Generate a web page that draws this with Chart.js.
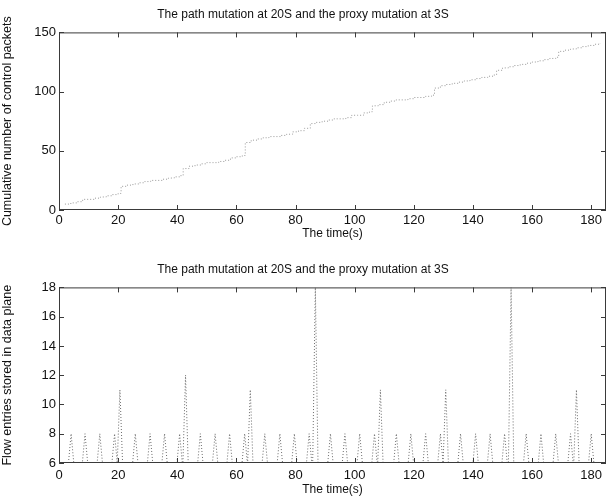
<!DOCTYPE html>
<html>
<head>
<meta charset="utf-8">
<script src="https://cdn.jsdelivr.net/npm/chart.js@4"></script>
<style>
  body { margin: 0; background: #fff; }
  .plot { position: absolute; left: 0; width: 614px; }
</style>
</head>
<body>
<div class="plot" style="top:0;height:243px"><canvas id="cumChart"></canvas></div>
<div class="plot" style="top:243px;height:255px"><canvas id="flowChart"></canvas></div>
<script>
'use strict';

// Data
const chartTitle = 'The path mutation at 20S and the proxy mutation at 3S';
const timeTicks = [0, 20, 40, 60, 80, 100, 120, 140, 160, 180];

// top: cumulative number of control packets (staircase)
const cumTimes = [2, 4, 6, 8, 10, 12, 14, 16, 18, 20, 21, 23, 25, 27, 29, 31, 33, 35, 37, 39,
  41, 42, 44, 46, 48, 50, 52, 54, 56, 58, 60, 62, 63, 65, 67, 69, 71, 73, 75, 77,
  79, 81, 83, 85, 87, 89, 91, 93, 95, 97, 99, 101, 103, 105, 106, 108, 110, 112, 114, 116,
  118, 120, 122, 124, 126, 127, 129, 131, 133, 135, 137, 139, 141, 143, 145, 147, 148, 150, 152, 154,
  156, 158, 160, 162, 164, 166, 168, 169, 171, 173, 175, 177, 179, 181, 183];
const cumPackets = [5, 6, 7, 9, 9, 10, 11, 12, 13, 14, 20, 21, 22, 23, 24, 25, 25, 26, 27, 28,
  29, 35, 37, 38, 39, 40, 40, 41, 42, 44, 45, 46, 57, 59, 60, 61, 62, 62, 63, 64,
  66, 67, 69, 73, 74, 75, 76, 77, 77, 78, 80, 80, 82, 83, 88, 89, 91, 92, 93, 93,
  94, 95, 95, 96, 97, 103, 105, 106, 107, 108, 109, 110, 111, 112, 113, 114, 118, 120, 121, 122,
  123, 124, 125, 126, 127, 128, 129, 134, 135, 136, 137, 138, 139, 140, 141];

// bottom: flow entries stored in data plane (spikes from the baseline of 6)
const flowBase = 6;
const spikeTimes = [4.1, 8.8, 13.8, 18.8, 20.6, 25.8, 30.8, 35.7, 40.8, 42.8, 47.8, 52.8, 57.7, 62.8, 64.7,
  69.6, 74.7, 79.6, 84.6, 86.7, 91.8, 96.7, 101.7, 106.7, 108.7, 114.1, 119, 124, 129, 130.8,
  135.8, 140.9, 145.8, 150.7, 152.9, 158, 163, 168, 173, 175, 180];
const spikeEntries = [8, 8, 8, 8, 11, 8, 8, 8, 8, 12, 8, 8, 8, 8, 11,
  8, 8, 8, 8, 18, 8, 8, 8, 8, 11, 8, 8, 8, 8, 11,
  8, 8, 8, 8, 18, 8, 8, 8, 8, 11, 8];

// Plugin: matlab style box with inward ticks
const boxTicks = {
  id: 'boxTicks',
  afterDatasetsDraw(chart){
    const {ctx, chartArea: a, scales: {x, y}} = chart;
    ctx.save();
    ctx.strokeStyle = '#3a3a3a';
    ctx.lineWidth = 1;
    ctx.strokeRect(a.left + 0.5, a.top + 0.5, a.width - 1, a.height - 1);
    ctx.beginPath();
    x.ticks.forEach(t => {
      let px = Math.round(x.getPixelForValue(t.value)) + 0.5;
      ctx.moveTo(px, a.bottom); ctx.lineTo(px, a.bottom - 5);
      ctx.moveTo(px, a.top); ctx.lineTo(px, a.top + 5);
    });
    y.ticks.forEach(t => {
      let py = Math.round(y.getPixelForValue(t.value)) + 0.5;
      ctx.moveTo(a.left, py); ctx.lineTo(a.left + 5, py);
      ctx.moveTo(a.right, py); ctx.lineTo(a.right - 5, py);
    });
    ctx.stroke();
    ctx.restore();
  }
};

Chart.defaults.font.family = '"Liberation Sans", Arial, sans-serif';
Chart.defaults.font.size = 12;
Chart.defaults.color = '#111';

function makeOptions(cfg){
  return {
    responsive: true,
    maintainAspectRatio: false,
    animation: false,
    layout: { padding: { left: 0, right: 8, top: 0, bottom: 0 } },
    plugins: {
      legend: { display: false },
      tooltip: { enabled: false },
      title: {
        display: true,
        text: chartTitle,
        font: { size: 12, weight: 'normal' },
        color: '#111',
        padding: { top: cfg.titleTop, bottom: cfg.titleBottom }
      }
    },
    scales: {
      x: {
        type: 'linear',
        min: 0,
        max: 185,
        afterBuildTicks: scale => {
          scale.ticks = timeTicks.map(v => ({ value: v }));
        },
        afterFit: scale => { scale.height = cfg.xHeight; },
        grid: { display: false, drawTicks: false },
        border: { display: false },
        ticks: { padding: cfg.xTickPad, font: { size: 13 }, maxRotation: 0 },
        title: { display: true, text: 'The time(s)', font: { size: 12 }, padding: { top: 0, bottom: cfg.xTitlePad } }
      },
      y: {
        min: cfg.yMin,
        max: cfg.yMax,
        afterBuildTicks: scale => {
          scale.ticks = cfg.yTicks.map(v => ({ value: v }));
        },
        afterFit: scale => { scale.width = 59; },
        grid: { display: false, drawTicks: false },
        border: { display: false },
        ticks: { padding: 3, font: { size: 13 } },
        title: { display: true, text: cfg.yTitle, font: { size: 12.5 }, padding: { top: 0, bottom: cfg.yTitlePad } }
      }
    }
  };
}

// top chart
let cumPoints = [];
for (let i = 0; i < cumTimes.length; i++){
  cumPoints.push({ x: cumTimes[i], y: cumPackets[i] });
}

new Chart(document.getElementById('cumChart'), {
  type: 'line',
  data: {
    datasets: [{
      data: cumPoints,
      stepped: true,
      borderColor: '#999999',
      borderWidth: 1,
      borderDash: [1, 2],
      pointRadius: 0,
      fill: false
    }]
  },
  options: makeOptions({
    titleTop: 7, titleBottom: 11,
    xHeight: 33, xTickPad: 3, xTitlePad: 2,
    yMin: 0, yMax: 150, yTicks: [0, 50, 100, 150],
    yTitle: 'Cumulative number of control packets', yTitlePad: 2
  }),
  plugins: [boxTicks]
});

// bottom chart
let flowPoints = [];
for (let i = 0; i < spikeTimes.length; i++){
  flowPoints.push({ x: spikeTimes[i] - 0.9, y: flowBase });
  flowPoints.push({ x: spikeTimes[i], y: spikeEntries[i] });
  flowPoints.push({ x: spikeTimes[i] + 0.9, y: flowBase });
}
flowPoints.sort((a, b) => a.x - b.x);

new Chart(document.getElementById('flowChart'), {
  type: 'line',
  data: {
    datasets: [{
      data: flowPoints,
      borderColor: '#6a6a6a',
      borderWidth: 1,
      borderDash: [1, 2],
      pointRadius: 0,
      tension: 0,
      fill: false
    }]
  },
  options: makeOptions({
    titleTop: 19, titleBottom: 11,
    xHeight: 35, xTickPad: 5, xTitlePad: 1,
    yMin: 6, yMax: 18, yTicks: [6, 8, 10, 12, 14, 16, 18],
    yTitle: 'Flow entries stored in data plane', yTitlePad: 8
  }),
  plugins: [boxTicks]
});
</script>
</body>
</html>
